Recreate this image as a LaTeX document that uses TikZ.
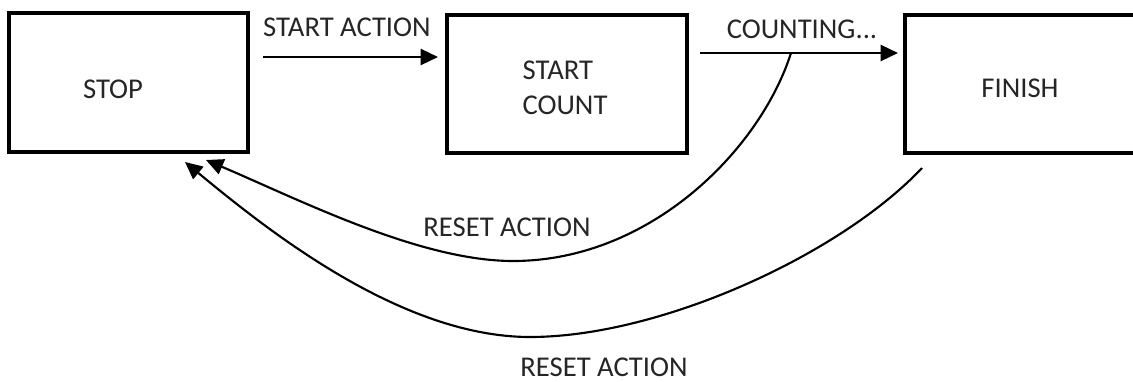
\documentclass[tikz,border=0pt]{standalone}
\usepackage{fontspec}
\setmainfont{Carlito}
\usetikzlibrary{arrows.meta}
\begin{document}
\begin{tikzpicture}[x=0.75pt,y=-0.75pt,
  statebox/.style={draw,line width=2.4pt,inner sep=0pt},
  lbl/.style={inner sep=0pt,font=\fontsize{21.5}{26}\selectfont,text=black!85},
  conn/.style={line width=1.8pt,-{Triangle[length=13pt,width=12pt]}},
  curv/.style={line width=1.6pt,-{Triangle[length=13pt,width=12pt]}}]
\useasboundingbox (0,0) rectangle (1133,382);
\node[statebox,minimum width=239*0.75pt,minimum height=139*0.75pt] (stop) at (128.5,82.5) {};
\node[statebox,minimum width=240*0.75pt,minimum height=138*0.75pt] (count) at (567,84) {};
\node[statebox,minimum width=260*0.75pt,minimum height=138*0.75pt] (finish) at (1035,84) {};
\node[lbl] (tstop) at (113,89) {STOP};
\node[lbl,align=left] (tcount) at (565,88) {START\\COUNT};
\node[lbl] (tfinish) at (1020,88) {FINISH};
\node[lbl] (lstart) at (347,27) {START ACTION};
\node[lbl] (lcount) at (802,29) {COUNTING...};
\node[lbl] (lreset1) at (507,227) {RESET ACTION};
\node[lbl] (lreset2) at (604,367) {RESET ACTION};
\coordinate (a1) at (263,57);
\coordinate (a2) at (438,57);
\coordinate (b1) at (700,53);
\coordinate (b2) at (898,53);
\coordinate (c1s) at (791,53);
\coordinate (c1b) at (513,261);
\coordinate (c1e) at (206,160);
\coordinate (c2s) at (922,168);
\coordinate (c2b) at (530,337);
\coordinate (c2e) at (185,162);
\draw[conn] (a1) -- (a2);
\draw[conn] (b1) -- (b2);
\draw[curv] (c1s) .. controls (760,150) and (650,261) .. (c1b)
  .. controls (420,261) and (300,200) .. (c1e);
\draw[curv] (c2s) .. controls (840,255) and (660,337) .. (c2b)
  .. controls (400,337) and (265,228) .. (c2e);
\end{tikzpicture}
\end{document}
